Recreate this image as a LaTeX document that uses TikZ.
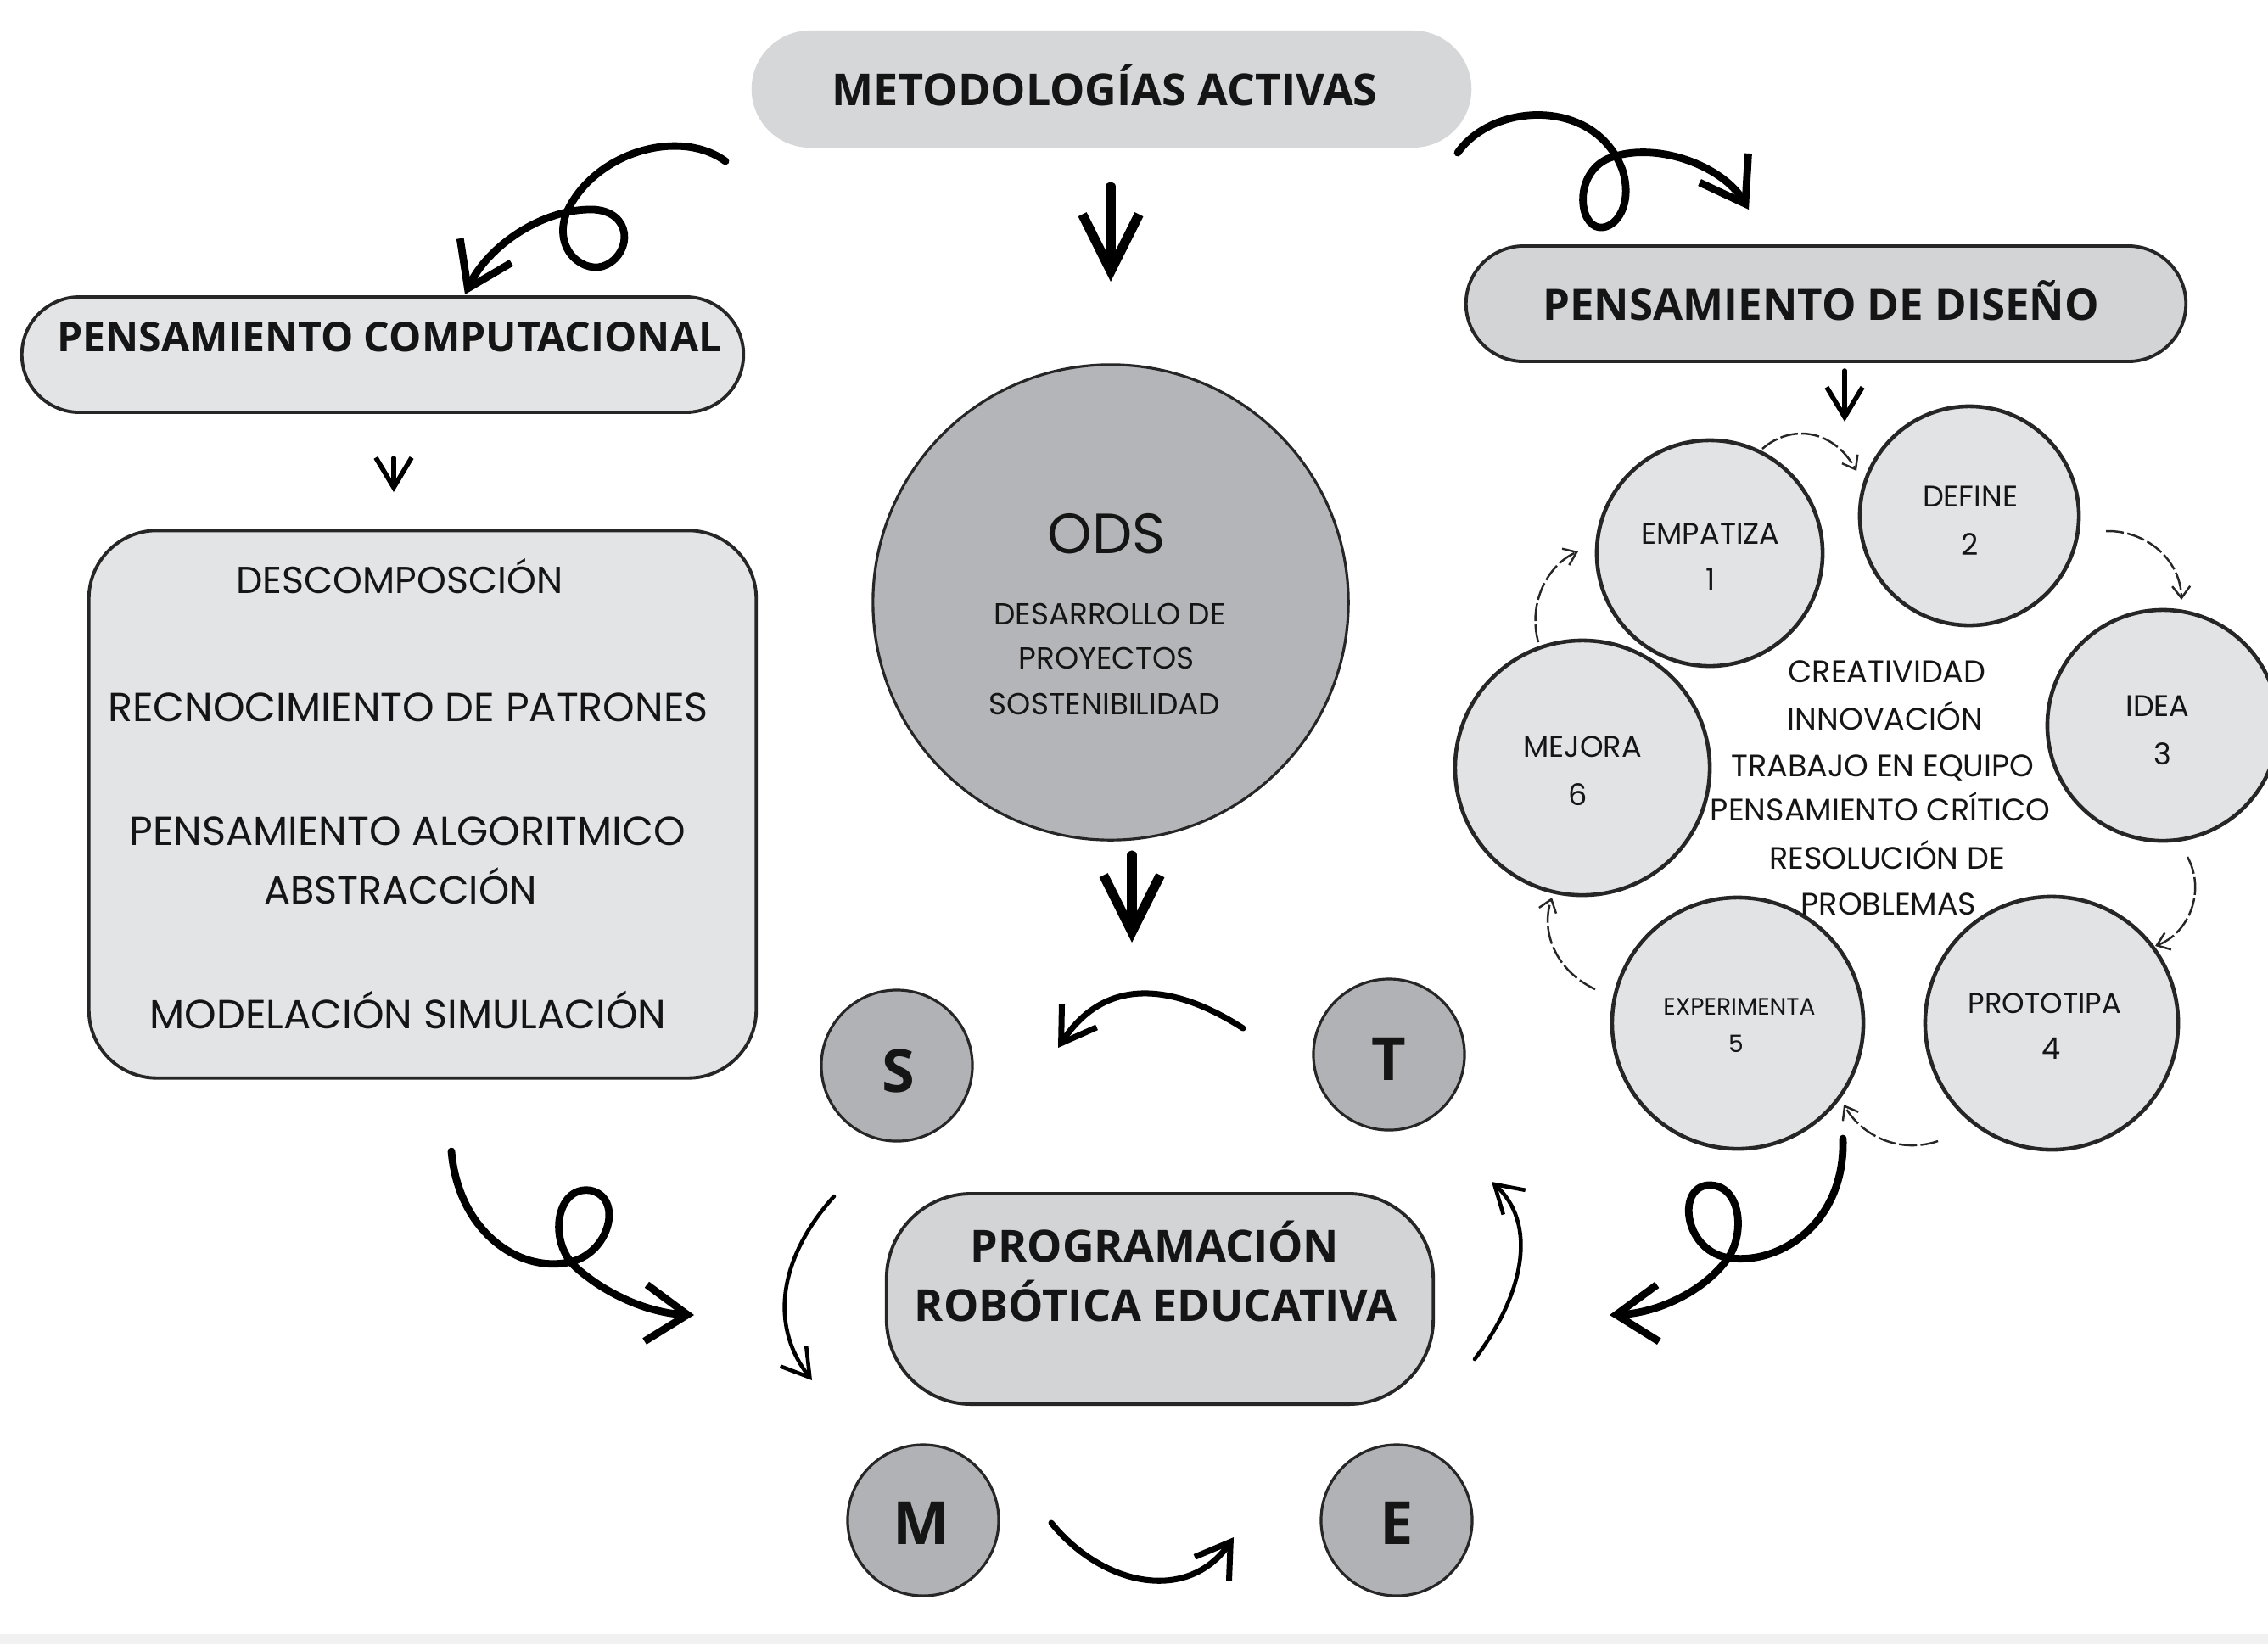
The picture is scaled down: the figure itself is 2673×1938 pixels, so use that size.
\documentclass[tikz,border=0pt]{standalone}
\usepackage{fontspec}
\usetikzlibrary{arrows.meta}
\newfontfamily\hdrfont{Open Sans}
\newfontfamily\handfont{Poppins}
\definecolor{metfill}{HTML}{D6D7D8}
\definecolor{pcfill}{HTML}{E3E4E6}
\definecolor{disfill}{HTML}{D3D4D6}
\definecolor{odsfill}{HTML}{B4B5B8}
\definecolor{cirfill}{HTML}{E2E3E5}
\definecolor{stemfill}{HTML}{B1B2B5}
\definecolor{progfill}{HTML}{D3D4D6}
\definecolor{edge}{HTML}{262626}
\definecolor{ink}{HTML}{151515}
\definecolor{strip}{HTML}{F1F1F1}
\newcommand{\fsz}[1]{\fontsize{#1}{#1}\selectfont}
\tikzset{
  pillbox/.style={inner sep=0pt, draw=edge, line width=1.1pt},
  hdr/.style={font=\hdrfont\bfseries, text=ink, inner sep=0pt, text height=10pt, text depth=0pt},
  stemletter/.style={font=\hdrfont\bfseries\fontsize{20}{24}\selectfont, text=ink, inner sep=0pt, text height=14.3pt, text depth=0pt},
  handbig/.style={font=\handfont, text=ink, inner sep=0pt, text height=9.3pt, text depth=0pt},
  handods/.style={font=\handfont\fontsize{10.2}{12}\selectfont, text=ink, inner sep=0pt, text height=7.1pt, text depth=0pt},
  handcir/.style={font=\handfont\fontsize{10}{12}\selectfont, text=ink, inner sep=0pt, text height=7pt, text depth=0pt},
  handsmall/.style={font=\handfont\fontsize{8}{10}\selectfont, text=ink, inner sep=0pt, text height=5.6pt, text depth=0pt},
  handmid/.style={font=\handfont\fontsize{10.4}{12}\selectfont, text=ink, inner sep=0pt, text height=7.3pt, text depth=0pt},
  stemcirc/.style={circle, draw=edge, line width=0.9pt, fill=stemfill, minimum size=1.78cm, inner sep=0pt},
  dcirc/.style={circle, draw=edge, line width=1.3pt, fill=cirfill, inner sep=0pt},
  bigdown/.style={line width=3.2pt, line cap=round, -{Straight Barb[length=19pt,width=19pt]}},
  smalldown/.style={line width=1.6pt, line cap=round, -{Straight Barb[length=10pt,width=12pt]}},
  curly/.style={line width=2.5pt, line cap=round, -{Straight Barb[length=14pt,width=19pt]}},
  midarrow/.style={line width=2pt, line cap=round, -{Straight Barb[length=11pt,width=14pt]}},
  thinarrow/.style={line width=1.3pt, line cap=round, -{Straight Barb[length=9pt,width=11pt]}},
  cycarrow/.style={line width=0.7pt, draw=edge, dash pattern=on 6pt off 1.2pt, -{Straight Barb[length=4pt,width=6pt]}}
}
\begin{document}
\begin{tikzpicture}[x=0.01cm,y=-0.01cm]
\useasboundingbox (0,0) rectangle (2673,1938);
\fill[white] (0,0) rectangle (2673,1938);
\fill[strip] (0,1926) rectangle (2673,1938);

% ---------- top ----------
\node[fill=metfill, rounded corners=0.69cm, minimum width=8.48cm, minimum height=1.38cm, inner sep=0pt] (met) at (1310,105) {};
\node[hdr, font=\hdrfont\bfseries\fsz{14.8}] (metT) at (1302,107) {METODOLOGÍAS ACTIVAS};

\node[pillbox, fill=pcfill, rounded corners=0.68cm, minimum width=8.5cm, minimum height=1.36cm] (pc) at (451,418) {};
\node[hdr, font=\hdrfont\bfseries\fsz{13.7}] (pcT) at (459,397) {PENSAMIENTO COMPUTACIONAL};

\node[pillbox, fill=disfill, rounded corners=0.68cm, minimum width=8.48cm, minimum height=1.36cm] (dis) at (2152,358) {};
\node[hdr, font=\hdrfont\bfseries\fsz{14.5}] (disT) at (2146,360) {PENSAMIENTO DE DISEÑO};

% ---------- left box ----------
\node[pillbox, fill=pcfill, rounded corners=0.8cm, minimum width=7.86cm, minimum height=6.45cm] (box) at (498,948) {};
\node[handbig, font=\handfont\fsz{12.6}] (l1) at (471,683) {DESCOMPOSCIÓN};
\node[handbig, font=\handfont\fsz{13.6}] (l2) at (481,834) {RECNOCIMIENTO DE PATRONES};
\node[handbig, font=\handfont\fsz{13.6}] (l3) at (480,980) {PENSAMIENTO ALGORITMICO};
\node[handbig, font=\handfont\fsz{13.1}] (l4) at (472,1049) {ABSTRACCIÓN};
\node[handbig, font=\handfont\fsz{13.6}] (l5) at (481,1196) {MODELACIÓN SIMULACIÓN};

% ---------- ODS ----------
\node[circle, draw=edge, line width=0.9pt, fill=odsfill, minimum size=5.6cm, inner sep=0pt] (ods) at (1309,710) {};
\node[font=\handfont\fontsize{19}{22}\selectfont, text=ink, inner sep=0pt, text height=13.6pt, text depth=0pt] (odsT) at (1304,629) {ODS};
\node[handods] (o1) at (1308,724) {DESARROLLO DE};
\node[handods] (o2) at (1304,776) {PROYECTOS};
\node[handods] (o3) at (1302,830) {SOSTENIBILIDAD};

% ---------- design thinking circles ----------
\node[dcirc, minimum size=2.66cm] (c1) at (2015,652) {};
\node[dcirc, minimum size=2.58cm] (c2) at (2321,608) {};
\node[dcirc, minimum size=2.72cm] (c3) at (2549,855) {};
\node[dcirc, minimum size=2.98cm] (c4) at (2418,1206) {};
\node[dcirc, minimum size=2.96cm] (c5) at (2048,1206) {};
\node[dcirc, minimum size=3.0cm] (c6) at (1865,905) {};

\node[handcir] (c1a) at (2016,629) {EMPATIZA};
\node[handcir] (c1b) at (2016,683) {1};
\node[handcir] (c2a) at (2322,585) {DEFINE};
\node[handcir] (c2b) at (2322,642) {2};
\node[handcir] (c3a) at (2543,832) {IDEA};
\node[handcir] (c3b) at (2549,889) {3};
\node[handcir, font=\handfont\fsz{9.6}] (c4a) at (2410,1182) {PROTOTIPA};
\node[handcir] (c4b) at (2418,1236) {4};
\node[handsmall] (c5a) at (2050,1187) {EXPERIMENTA};
\node[handsmall] (c5b) at (2046,1231) {5};
\node[handcir] (c6a) at (1865,880) {MEJORA};
\node[handcir] (c6b) at (1860,937) {6};

\node[handmid] (k1) at (2224,792) {CREATIVIDAD};
\node[handmid] (k2) at (2222,848) {INNOVACIÓN};
\node[handmid] (k3) at (2219,903) {TRABAJO EN EQUIPO};
\node[handmid] (k4) at (2216,955) {PENSAMIENTO CRÍTICO};
\node[handmid] (k5) at (2224,1012) {RESOLUCIÓN DE};
\node[handmid] (k6) at (2226,1066) {PROBLEMAS};

% ---------- STEM ----------
\node[stemcirc] (S) at (1057,1256) {};
\node[stemcirc] (T) at (1637,1243) {};
\node[stemcirc] (M) at (1088,1792) {};
\node[stemcirc] (E) at (1646,1792) {};
\node[stemletter] (St) at (1059,1262) {S};
\node[stemletter] (Tt) at (1637,1248) {T};
\node[stemletter] (Mt) at (1086,1795) {M};
\node[stemletter] (Et) at (1646,1795) {E};

\node[pillbox, fill=progfill, rounded corners=1.0cm, minimum width=6.44cm, minimum height=2.48cm] (prog) at (1367,1531) {};
\node[hdr, font=\hdrfont\bfseries\fsz{14.8}] (progT1) at (1361,1470) {PROGRAMACIÓN};
\node[hdr, font=\hdrfont\bfseries\fsz{14.8}] (progT2) at (1362,1540) {ROBÓTICA EDUCATIVA};

% ---------- arrow end points ----------
\coordinate (a1s) at (1309,220);  \coordinate (a1e) at (1309,332);
\coordinate (a2s) at (1334,1008); \coordinate (a2e) at (1334,1111);
\coordinate (a3s) at (464,540);   \coordinate (a3e) at (464,580);
\coordinate (a4s) at (2174,437);  \coordinate (a4e) at (2174,497);
\coordinate (a5s) at (855,190);   \coordinate (a5e) at (548,347);
\coordinate (a6s) at (1718,180);  \coordinate (a6e) at (2061,247);
\coordinate (a7s) at (532,1357);  \coordinate (a7e) at (818,1550);
\coordinate (a8s) at (2172,1342); \coordinate (a8e) at (1897,1550);
\coordinate (a9s) at (1465,1212); \coordinate (a9e) at (1247,1235);
\coordinate (a10s) at (983,1410); \coordinate (a10e) at (957,1627);
\coordinate (a11s) at (1239,1795);\coordinate (a11e) at (1454,1812);
\coordinate (a12s) at (1738,1602);\coordinate (a12e) at (1758,1393);
% cycle
\coordinate (y12s) at (2077,529); \coordinate (y12e) at (2188,555);
\coordinate (y23s) at (2482,626); \coordinate (y23e) at (2571,707);
\coordinate (y34s) at (2578,1010);\coordinate (y34e) at (2540,1115);
\coordinate (y45s) at (2284,1345);\coordinate (y45e) at (2173,1302);
\coordinate (y56s) at (1880,1166);\coordinate (y56e) at (1829,1058);
\coordinate (y61s) at (1813,757); \coordinate (y61e) at (1860,650);

% ---------- arrows ----------
\draw[bigdown] (a1s) -- (a1e);
\draw[bigdown] (a2s) -- (a2e);
\draw[smalldown] (a3s) -- (a3e);
\draw[smalldown] (a4s) -- (a4e);

\draw[curly] (a5s) .. controls (800,150) and (700,180) .. (668,250)
  .. controls (650,295) and (690,325) .. (715,312)
  .. controls (745,297) and (745,250) .. (700,247)
  .. controls (640,245) and (575,290) .. (a5e);

\draw[curly] (a6s) .. controls (1760,120) and (1880,115) .. (1912,200)
  .. controls (1925,240) and (1905,270) .. (1885,268)
  .. controls (1860,265) and (1855,205) .. (1895,187)
  .. controls (1950,165) and (2030,195) .. (a6e);

\draw[curly] (a7s) .. controls (540,1450) and (610,1500) .. (670,1488)
  .. controls (720,1478) and (735,1410) .. (695,1403)
  .. controls (655,1398) and (645,1465) .. (680,1495)
  .. controls (720,1530) and (770,1548) .. (a7e);

\draw[curly] (a8s) .. controls (2175,1440) and (2100,1490) .. (2040,1483)
  .. controls (1985,1477) and (1975,1400) .. (2013,1397)
  .. controls (2052,1395) and (2058,1455) .. (2035,1485)
  .. controls (2005,1525) and (1950,1548) .. (a8e);

\draw[midarrow] (a9s) .. controls (1400,1170) and (1310,1140) .. (a9e);
\draw[thinarrow] (a10s) .. controls (920,1480) and (905,1560) .. (a10e);
\draw[midarrow] (a11s) .. controls (1300,1870) and (1400,1890) .. (a11e);
\draw[thinarrow] (a12s) .. controls (1800,1520) and (1810,1440) .. (a12e);

% cycle arrows between circles
\draw[cycarrow] (y12s) .. controls (2110,500) and (2160,505) .. (y12e);
\draw[cycarrow] (y23s) .. controls (2530,625) and (2570,660) .. (y23e);
\draw[cycarrow] (y34s) .. controls (2600,1050) and (2580,1100) .. (y34e);
\draw[cycarrow] (y45s) .. controls (2240,1360) and (2195,1340) .. (y45e);
\draw[cycarrow] (y56s) .. controls (1835,1145) and (1815,1100) .. (y56e);
\draw[cycarrow] (y61s) .. controls (1800,710) and (1825,665) .. (y61e);
\end{tikzpicture}
\end{document}
